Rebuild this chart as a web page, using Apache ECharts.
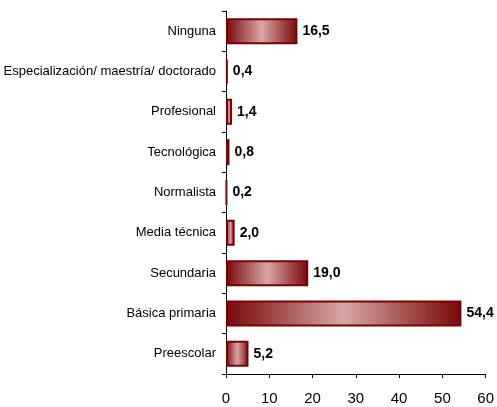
<!DOCTYPE html>
<html>
<head>
<meta charset="utf-8">
<script src="https://cdn.jsdelivr.net/npm/echarts@6/dist/echarts.min.js"></script>
<style>
  html, body { margin: 0; padding: 0; background: #fff; }
  #bar { width: 497px; height: 407px; }
</style>
</head>
<body>
<div id="bar"></div>
<script>
// categories from bottom to top (as ECharts draws a category y axis)
const categories = ['Preescolar', 'Básica primaria', 'Secundaria', 'Media técnica', 'Normalista', 'Tecnológica', 'Profesional', 'Especialización/ maestría/ doctorado', 'Ninguna']
const values = [5.2, 54.4, 19.0, 2.0, 0.2, 0.8, 1.4, 0.4, 16.5]
const xTicks = [0, 10, 20, 30, 40, 50, 60]

// no narrow font installed, Liberation Sans is the closest
const font = '"Liberation Sans", Arial, sans-serif'

const chart = echarts.init(document.getElementById('bar'))

chart.setOption({
  animation: false,
  grid: {
    top: 11,
    left: 226,
    right: 10,
    bottom: 33
  },
  xAxis: {
    type: 'value',
    min: xTicks[0],
    max: xTicks[xTicks.length - 1],
    interval: 10,
    splitLine: { show: false },
    axisLine: { show: true, lineStyle: { color: '#000', width: 1 } },
    axisTick: { show: true, length: 4, lineStyle: { color: '#000' } },
    axisLabel: { color: '#000', fontSize: 15, fontFamily: font, margin: 17 }
  },
  yAxis: {
    type: 'category',
    data: categories,
    axisLine: { lineStyle: { color: '#000', width: 1 } },
    axisTick: { show: true, length: 4, lineStyle: { color: '#000' } },
    axisLabel: { color: '#000', fontSize: 13, fontFamily: font, margin: 10 }
  },
  series: [{
    type: 'bar',
    data: values,
    barWidth: 26,
    itemStyle: {
      borderColor: '#7d0000',
      borderWidth: 2,
      color: new echarts.graphic.LinearGradient(0, 0, 1, 0, [
        { offset: 0, color: '#780808' },
        { offset: 0.5, color: '#d8a6a6' },
        { offset: 1, color: '#780808' }
      ])
    },
    label: {
      show: true,
      position: 'right',
      distance: 5,
      color: '#000',
      fontSize: 14,
      fontWeight: 'bold',
      fontFamily: font,
      formatter: p => p.value.toFixed(1).replace('.', ',')
    }
  }]
})
</script>
</body>
</html>
